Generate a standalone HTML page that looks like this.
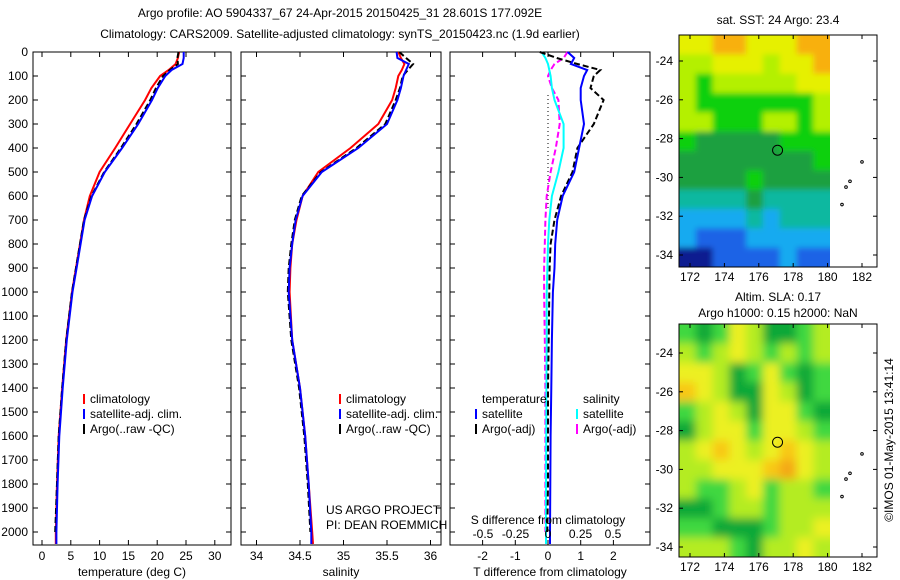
<!DOCTYPE html>
<html><head><meta charset="utf-8"><style>
html,body{margin:0;padding:0;background:#fff;width:900px;height:580px;overflow:hidden}
svg{display:block;font-family:"Liberation Sans",sans-serif}
text{font-size:12px;fill:#000}
</style></head><body>
<svg id="fig" width="900" height="580" viewBox="0 0 900 580" xmlns="http://www.w3.org/2000/svg">
<defs>
<filter id="blurS" x="0" y="0" width="1" height="1"><feGaussianBlur stdDeviation="3"/></filter>
<filter id="blurL" x="0" y="0" width="1" height="1"><feGaussianBlur stdDeviation="4.5"/></filter>
<clipPath id="clipS"><rect x="679" y="35" width="151" height="232"/></clipPath>
<clipPath id="clipL"><rect x="679" y="324" width="151" height="233"/></clipPath>
</defs>
<text x="340" y="17" text-anchor="middle">Argo profile: AO 5904337_67 24-Apr-2015 20150425_31 28.601S 177.092E</text>
<text x="340" y="38" text-anchor="middle">Climatology: CARS2009. Satellite-adjusted climatology: synTS_20150423.nc (1.9d earlier)</text>
<g id="plots"></g>
</svg>
<script>
// ---- data ----
const depths = [0,25,50,75,100,150,200,300,400,500,600,700,800,900,1000,1200,1400,1600,1800,2000,2050];
const tempClim = [23.8,23.6,23.2,22.0,20.5,19.0,17.9,15.3,12.7,10.0,8.3,7.3,6.6,5.9,5.2,4.2,3.5,2.9,2.6,2.4,2.4];
const tempSat  = [24.6,24.6,24.4,22.5,21.4,20.1,19.1,16.7,13.9,10.9,8.7,7.4,6.7,6.0,5.3,4.3,3.6,3.0,2.7,2.5,2.5];
const tempArgo = [23.7,23.5,23.6,22.2,21.0,19.8,18.8,16.4,13.7,10.8,8.6,7.3,6.6,5.9,5.2,4.2,3.5,2.9,2.6,2.3,null];
const salClim = [35.63,35.66,35.70,35.67,35.63,35.60,35.56,35.40,35.08,34.71,34.53,34.46,34.41,34.39,34.38,34.41,34.50,34.56,34.60,34.64,34.65];
const salSat  = [35.61,35.62,35.75,35.72,35.69,35.66,35.62,35.50,35.17,34.75,34.53,34.45,34.41,34.38,34.37,34.41,34.50,34.56,34.60,34.63,34.63];
const salArgo = [35.64,35.72,35.80,35.74,35.68,35.65,35.60,35.48,35.15,34.74,34.52,34.44,34.40,34.37,34.36,34.40,34.49,34.55,34.59,34.62,null];
const tDiffSat  = [0.6,0.8,0.7,1.2,1.1,1.0,1.0,1.1,0.95,0.8,0.45,0.28,0.22,0.2,0.15,0.12,0.1,0.08,0.07,0.06,0.06];
const tDiffArgo = [-0.25,0.27,0.9,1.6,1.4,1.3,1.7,1.4,0.9,0.75,0.4,0.2,0.08,0.05,0.04,0.02,0.0,0.0,0.0,-0.02,null];
const sDiffSat  = [-0.05,-0.02,0.0,0.01,0.02,0.03,0.05,0.12,0.12,0.08,0.03,0.01,0.0,-0.005,-0.01,-0.01,-0.012,-0.014,-0.015,-0.015,-0.015];
const sDiffArgo = [0.15,0.12,0.05,0.02,0.0,0.03,0.08,0.09,0.06,0.02,-0.01,-0.02,-0.025,-0.03,-0.03,-0.025,-0.02,-0.02,-0.02,-0.02,null];
const depthTicks = [0,100,200,300,400,500,600,700,800,900,1000,1100,1200,1300,1400,1500,1600,1700,1800,1900,2000];
const tempTicks = [0,5,10,15,20,25,30];
const salTicks = ["34","34.5","35","35.5","36"];
const tdTicks = ["-2","-1","0","1","2"];
const sdTicks = ["-0.5","-0.25","0","0.25","0.5"];
const sstGrid = [
[7,7,8,8,7,7,7,8,8],
[6,6,7,7,7,6,7,7,8],
[6,5,6,6,6,6,6,7,7],
[6,5,5,5,5,5,5,5,6],
[6,6,5,5,5,6,6,5,6],
[5,4,4,4,4,4,5,5,5],
[4,4,4,4,4,4,4,4,5],
[4,4,4,4,5,4,4,4,4],
[3,3,3,3,4,3,3,3,3],
[2,2,2,2,3,2,3,3,3],
[2,1,1,1,2,2,2,2,2],
[0,0,1,1,1,1,2,1,1]];
const slaGrid = [
[1,0,1,3,2,0,0,1,2],
[2,1,2,3,2,1,2,1,2],
[3,3,2,0,1,3,1,0,1],
[4,3,2,0,0,3,2,0,1],
[1,2,3,2,0,3,3,1,0],
[0,2,3,3,1,3,3,2,1],
[2,3,4,3,2,3,4,3,2],
[2,2,3,3,3,4,5,3,2],
[2,1,1,2,3,1,2,2,1],
[0,0,1,2,2,1,2,2,2],
[1,1,0,0,0,1,2,2,3],
[2,2,2,1,0,2,2,3,2]];
const lonTicks = [172,174,176,178,180,182];
const latTicks = [-24,-26,-28,-30,-32,-34];
const sstColors = ["#0a1a90","#1e64e6","#14aaf0","#10b8a0","#1ea040","#10d010","#b4f000","#e6f000","#f8b010"];
const slaColors = ["#0aa838","#40d840","#b4ec20","#ecf020","#f8c818","#f4a818"];

const NS="http://www.w3.org/2000/svg";
const root=document.getElementById('plots');
function mk(tag,attrs,parent){const e=document.createElementNS(NS,tag);for(const k in attrs)e.setAttribute(k,attrs[k]);(parent||root).appendChild(e);return e;}
const Y0=52, PX100=24;
function yD(d){return Y0+d*PX100/100;}
const AX_BOT=545;

function panel(name,x0,x1,xf,ticks,tickVals,series,xlabel){
  const g=mk('g',{});
  
  
  mk('rect',{x:x0,y:Y0,width:x1-x0,height:AX_BOT-Y0,fill:'#fff',stroke:'#000','stroke-width':1},g);
  depthTicks.forEach(d=>{const y=yD(d);mk('line',{x1:x0,x2:x0+5,y1:y,y2:y,stroke:'#000'},g);mk('line',{x1:x1-5,x2:x1,y1:y,y2:y,stroke:'#000'},g);});
  tickVals.forEach((v,i)=>{const x=xf(+v);mk('line',{x1:x,x2:x,y1:Y0,y2:Y0+5,stroke:'#000'},g);mk('line',{x1:x,x2:x,y1:AX_BOT-5,y2:AX_BOT,stroke:'#000'},g);
    const t=mk('text',{x:x,y:AX_BOT+15,'text-anchor':'middle'},g);t.textContent=ticks[i];});
  const xl=mk('text',{x:(x0+x1)/2,y:576,'text-anchor':'middle'},g);xl.textContent=xlabel;
  
  series.forEach(s=>{
    const pts=[];s.vals.forEach((v,i)=>{if(v!==null)pts.push(xf(v).toFixed(1)+','+yD(depths[i]).toFixed(1));});
    const p=mk('polyline',{points:pts.join(' '),fill:'none',stroke:s.color,'stroke-width':s.w||2,'stroke-dasharray':s.dash||'none'},g);
    
  });
  return g;
}
depthTicks.forEach(d=>{const t=mk('text',{x:28,y:yD(d)+4,'text-anchor':'end'});t.textContent=d;
  });

const xT=v=>42+v*5.76;
const xS=v=>300+(v-34.5)*87;
const xTD=v=>548+v*32.7;
const xSD=v=>548+v*130;
panel('temperature-panel',33,231,xT,tempTicks.map(String),tempTicks,[
 {vals:tempClim,color:'#f00',name:'temp-climatology-line'},
 {vals:tempArgo,color:'#000',dash:'6,3',name:'temp-argo-line'},
 {vals:tempSat,color:'#00f',name:'temp-satellite-line'}],'temperature (deg C)');
panel('salinity-panel',241,441,xS,salTicks,salTicks,[
 {vals:salClim,color:'#f00',name:'sal-climatology-line'},
 {vals:salArgo,color:'#000',dash:'6,3',name:'sal-argo-line'},
 {vals:salSat,color:'#00f',name:'sal-satellite-line'}],'salinity');
const gd=panel('difference-panel',450,650,xTD,tdTicks,tdTicks,[],'T difference from climatology');
mk('line',{x1:548,x2:548,y1:95,y2:210,stroke:'#000','stroke-dasharray':'1,3'},gd);
[{vals:sDiffArgo,xf:xSD,color:'#f0f',dash:'6,3',name:'sdiff-argo-line'},
 {vals:sDiffSat,xf:xSD,color:'#0ff',name:'sdiff-satellite-line'},
 {vals:tDiffArgo,xf:xTD,color:'#000',dash:'6,3',name:'tdiff-argo-line'},
 {vals:tDiffSat,xf:xTD,color:'#00f',name:'tdiff-satellite-line'}].forEach(s=>{
  const pts=[];s.vals.forEach((v,i)=>{if(v!==null)pts.push(s.xf(v).toFixed(1)+','+yD(depths[i]).toFixed(1));});
  const p=mk('polyline',{points:pts.join(' '),fill:'none',stroke:s.color,'stroke-width':2,'stroke-dasharray':s.dash||'none'},gd);
  
});
sdTicks.forEach(v=>{const t=mk('text',{x:xSD(+v),y:538,'text-anchor':'middle'});t.textContent=v;
  });
const sdl=mk('text',{x:548,y:524,'text-anchor':'middle'});sdl.textContent='S difference from climatology';

[['US ARGO PROJECT',514],['PI: DEAN ROEMMICH',529]].forEach(a=>{const t=mk('text',{x:326,y:a[1]});t.textContent=a[0];
  });

function legend(x,entries){entries.forEach((e,i)=>{const y=399+i*15;
  if(e.c){mk('rect',{x:x,y:y-5,width:2,height:10,fill:e.c});}
  const t=mk('text',{x:x+7,y:y+4});t.textContent=e.t;
  });}
legend(83,[{c:'#f00',t:'climatology'},{c:'#00f',t:'satellite-adj. clim.'},{c:'#000',t:'Argo(..raw -QC)'}]);
legend(339,[{c:'#f00',t:'climatology'},{c:'#00f',t:'satellite-adj. clim.'},{c:'#000',t:'Argo(..raw -QC)'}]);
legend(475,[{c:null,t:'temperature'},{c:'#00f',t:'satellite'},{c:'#000',t:'Argo(-adj)'}]);
legend(576,[{c:null,t:'salinity'},{c:'#0ff',t:'satellite'},{c:'#f0f',t:'Argo(-adj)'}]);

function map(name,by0,by1,grid,colors,titles,lat0y,clip,blur){
  const g=mk('g',{});
  const bx0=679,bx1=877,dx1=830;
  const cg=mk('g',{'clip-path':'url(#'+clip+')'},g);
  const cells=mk('g',{filter:'url(#'+blur+')'},cg);
  const rows=grid.length,cols=grid[0].length,cw=(dx1-bx0)/cols,ch=(by1-by0)/rows;
  for(let i=-1;i<=rows;i++)for(let j=-1;j<=cols;j++){
    const ii=Math.min(rows-1,Math.max(0,i)),jj=Math.min(cols-1,Math.max(0,j));
    const c=mk('rect',{x:(bx0+j*cw).toFixed(2),y:(by0+i*ch).toFixed(2),width:(cw+0.6).toFixed(2),height:(ch+0.6).toFixed(2),fill:colors[grid[ii][jj]]},cells);
    }
  mk('rect',{x:bx0,y:by0,width:bx1-bx0,height:by1-by0,fill:'none',stroke:'#000'},g);
  const lonX=l=>690+(l-172)*17.2;
  const latY=l=>lat0y+(-24-l)*19.4;
  lonTicks.forEach(l=>{const x=lonX(l);mk('line',{x1:x,x2:x,y1:by0,y2:by0+4,stroke:'#000'},g);mk('line',{x1:x,x2:x,y1:by1-4,y2:by1,stroke:'#000'},g);
    const t=mk('text',{x:x,y:by1+14,'text-anchor':'middle'},g);t.textContent=l;});
  latTicks.forEach(l=>{const y=latY(l);mk('line',{x1:bx0,x2:bx0+4,y1:y,y2:y,stroke:'#000'},g);mk('line',{x1:bx1-4,x2:bx1,y1:y,y2:y,stroke:'#000'},g);
    const t=mk('text',{x:bx0-6,y:y+4,'text-anchor':'end'},g);t.textContent=l;});
  const m=mk('circle',{cx:lonX(177.09),cy:latY(-28.6),r:5,fill:'none',stroke:'#000'},g);
  
  [[862,-29.2],[850,-30.2],[846,-30.5],[842,-31.4]].forEach(p=>mk('circle',{cx:p[0],cy:latY(p[1]),r:1.3,fill:'none',stroke:'#000'},g));
  titles.forEach(tt=>{const t=mk('text',{x:778,y:tt[1],'text-anchor':'middle'},g);t.textContent=tt[0];
    });
}
map('sst-map',35,267,sstGrid,sstColors,[['sat. SST: 24 Argo: 23.4',24]],61,'clipS','blurS');
map('sla-map',324,557,slaGrid,slaColors,[['Altim. SLA: 0.17',301],['Argo h1000: 0.15 h2000: NaN',317]],353,'clipL','blurL');
const ts=mk('text',{x:0,y:0,transform:'translate(893,440) rotate(-90)','text-anchor':'middle'});
ts.textContent='©IMOS 01-May-2015 13:41:14';

</script>
</body></html>
